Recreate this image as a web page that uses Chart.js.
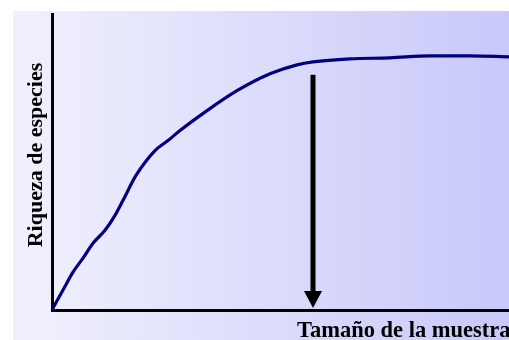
<!DOCTYPE html>
<html>
<head>
<meta charset="utf-8">
<script src="https://cdn.jsdelivr.net/npm/chart.js@4"></script>
<style>
  html, body { margin: 0; padding: 0; background: #ffffff; overflow: hidden; }
  canvas { display: block; }
</style>
</head>
<body>
<canvas id="chart1" width="509" height="340"></canvas>
<script>
// curve values (sample size vs species richness, arbitrary units)
const sampleSize = [0, 11, 21, 31, 41, 53, 63, 71, 84, 103, 116, 128, 155, 185, 218, 245, 261, 298, 338, 378, 418, 457];
const richness   = [0, 20, 38, 52, 67, 80, 95, 110, 135, 160, 170, 180, 200, 220, 237, 246, 249, 252, 253, 255, 255, 254];

const xMax = 457;
const yMax = 297;

// where the curve levels off (arrow)
const plateauX = 261;
const arrowFrom = 236;
const arrowTo = 2;

const yTitle = "Riqueza de especies";
const xTitle = "Tamaño de la muestra";

const panel = {
    id: 'panel',
    beforeDraw(chart) {
        const c = chart.ctx;
        const g = c.createLinearGradient(13, 0, 509, 0);
        g.addColorStop(0, '#f1f1fd');
        g.addColorStop(1, '#c8c8fa');
        c.save();
        c.fillStyle = g;
        c.fillRect(13, 11, 496, 329);
        c.restore();
    }
};

const extras = {
    id: 'extras',
    afterDraw(chart) {
        const c = chart.ctx;
        const x = chart.scales.x.getPixelForValue(plateauX);
        const y1 = chart.scales.y.getPixelForValue(arrowFrom);
        const y2 = chart.scales.y.getPixelForValue(arrowTo);
        c.save();
        c.fillStyle = '#000000';
        c.fillRect(x - 2.5, y1, 5, (y2 - y1) - 15);
        c.beginPath();
        c.moveTo(x - 9, y2 - 17);
        c.lineTo(x + 9, y2 - 17);
        c.lineTo(x, y2);
        c.closePath();
        c.fill();

        c.font = 'bold 22.5px "Liberation Serif", "Times New Roman", serif';
        c.textBaseline = 'alphabetic';
        c.textAlign = 'left';
        c.fillText(xTitle, 297, 337);

        c.font = 'bold 22px "Liberation Serif", "Times New Roman", serif';
        c.translate(42, 155);
        c.rotate(-Math.PI / 2);
        c.textAlign = 'center';
        c.fillText(yTitle, 0, 0);
        c.restore();
    }
};

const config = {
    type: 'line',
    data: {
        datasets: [{
            label: 'Riqueza',
            borderColor: '#000080',
            borderWidth: 3.2,
            radius: 0,
            cubicInterpolationMode: 'monotone',
            clip: 6,
            data: sampleSize.map((s, i) => ({ x: s, y: richness[i] })),
        }]
    },
    options: {
        responsive: false,
        animation: false,
        devicePixelRatio: 1,
        layout: {
            padding: { left: 52, top: 14, right: 0, bottom: 30 }
        },
        plugins: {
            legend: { display: false },
            tooltip: { enabled: false }
        },
        scales: {
            x: {
                type: 'linear',
                min: 0,
                max: xMax,
                grid: { display: false, drawTicks: false },
                ticks: { display: false },
                border: { display: true, color: '#000000', width: 3 }
            },
            y: {
                min: 0,
                max: yMax,
                grid: { display: false, drawTicks: false },
                ticks: { display: false },
                border: { display: true, color: '#000000', width: 3 }
            }
        }
    },
    plugins: [panel, extras]
};

const ctx1 = document.getElementById('chart1').getContext('2d');
const chart1 = new Chart(ctx1, config);
</script>
</body>
</html>
